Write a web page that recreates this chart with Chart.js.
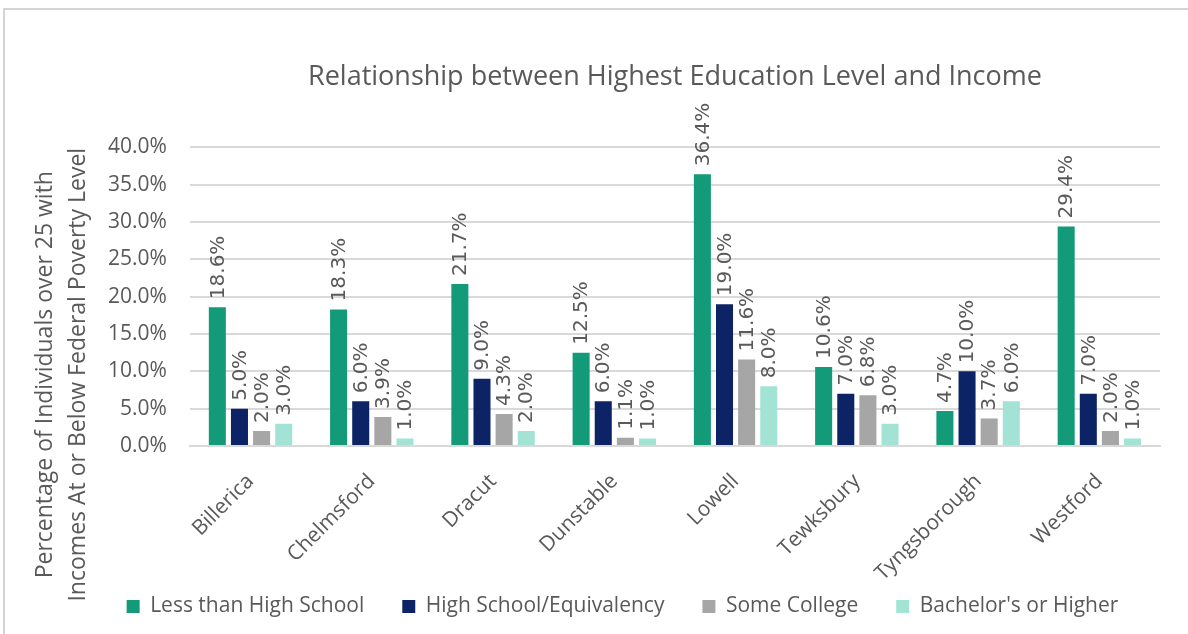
<!DOCTYPE html>
<html>
<head>
<meta charset="utf-8">
<script src="https://cdn.jsdelivr.net/npm/chart.js@4.4.1/dist/chart.umd.min.js"></script>
<style>
  html, body { margin: 0; padding: 0; background: #fff; overflow: hidden; }
  #wrap { position: relative; width: 1188px; height: 634px; }
  #frame { position: absolute; left: 3px; top: 8px; right: -4px; bottom: -4px;
           border-left: 2px solid #d4d4d4; border-top: 2px solid #d4d4d4; pointer-events: none; }
</style>
</head>
<body>
<div id="wrap">
  <canvas id="bar-chart" width="1188" height="634"></canvas>
  <div id="frame"></div>
</div>
<script>
var towns = ['Billerica', 'Chelmsford', 'Dracut', 'Dunstable', 'Lowell', 'Tewksbury', 'Tyngsborough', 'Westford'];
var lessThanHS   = [18.6, 18.3, 21.7, 12.5, 36.4, 10.6, 4.7, 29.4];
var highSchool   = [5.0, 6.0, 9.0, 6.0, 19.0, 7.0, 10.0, 7.0];
var someCollege  = [2.0, 3.9, 4.3, 1.1, 11.6, 6.8, 3.7, 2.0];
var bachelors    = [3.0, 1.0, 2.0, 1.0, 8.0, 3.0, 6.0, 1.0];
var yTicks = [0, 5, 10, 15, 20, 25, 30, 35, 40];
var yTitle = ['Percentage of Individuals over 25 with', 'Incomes At or Below Federal Poverty Level'];

var textGray = '#595959';
var sans = '"Open Sans"';

// value labels, rotated, sitting just above each bar
var barLabels = {
  id: 'barLabels',
  afterDatasetsDraw: function(chart) {
    var ctx = chart.ctx;
    ctx.save();
    ctx.fillStyle = textGray;
    ctx.font = '20px "DejaVu Sans"';
    ctx.textAlign = 'left';
    ctx.textBaseline = 'middle';
    chart.data.datasets.forEach(function(ds, i) {
      chart.getDatasetMeta(i).data.forEach(function(bar, j) {
        ctx.save();
        ctx.translate(bar.x, bar.y - 8);
        ctx.rotate(-Math.PI / 2);
        ctx.fillText(ds.data[j].toFixed(1) + '%', 0, 1);
        ctx.restore();
      });
    });
    ctx.restore();
  }
};

// two-line y axis title, centred on the area between plot top and legend
var yAxisTitle = {
  id: 'yAxisTitle',
  afterDraw: function(chart) {
    var ctx = chart.ctx;
    var cy = (chart.chartArea.top + chart.legend.top + 44) / 2;
    var left = chart.scales.y.left;
    ctx.save();
    ctx.fillStyle = textGray;
    ctx.font = '23px ' + sans;
    ctx.textAlign = 'center';
    ctx.textBaseline = 'middle';
    [left - 40, left - 7].forEach(function(x, k) {
      ctx.save();
      ctx.translate(x, cy);
      ctx.rotate(-Math.PI / 2);
      ctx.fillText(yTitle[k], 0, 0);
      ctx.restore();
    });
    ctx.restore();
  }
};

new Chart(document.getElementById('bar-chart'), {
  type: 'bar',
  data: {
    labels: towns,
    datasets: [
      { label: 'Less than High School', data: lessThanHS, backgroundColor: '#139A79' },
      { label: 'High School/Equivalency', data: highSchool, backgroundColor: '#0C2466' },
      { label: 'Some College', data: someCollege, backgroundColor: '#A6A6A6' },
      { label: "Bachelor's or Higher", data: bachelors, backgroundColor: '#A2E3D5' }
    ]
  },
  options: {
    responsive: false,
    animation: false,
    layout: { padding: { left: 85, right: 28, top: 0, bottom: 7 } },
    datasets: { bar: { categoryPercentage: 0.73, barPercentage: 0.77 } },
    plugins: {
      legend: {
        position: 'bottom',
        labels: {
          color: textGray,
          font: { family: sans, size: 21 },
          boxWidth: 13, boxHeight: 13,
          padding: 38
        }
      },
      title: {
        display: true,
        fullSize: false,
        text: 'Relationship between Highest Education Level and Income',
        color: textGray,
        font: { family: sans, size: 27, weight: 'normal' },
        padding: { top: 61, bottom: 54 }
      },
      tooltip: { enabled: false }
    },
    scales: {
      x: {
        grid: { display: false },
        border: { color: '#d9d9d9', width: 2 },
        ticks: {
          color: textGray,
          font: { family: sans, size: 21 },
          minRotation: 45, maxRotation: 45,
          padding: 15
        },
        // slanted names hang into the legend's empty top padding (so no
        // clipping at the scale's bottom edge), and the first one should
        // not push the plot to the right
        afterFit: function(scale) {
          scale.paddingLeft = 0;
          scale.height -= 43;
          scale._computeLabelArea = function() { return undefined; };
        }
      },
      y: {
        min: 0, max: 40,
        afterBuildTicks: function(axis) { axis.ticks = yTicks.map(function(v) { return { value: v }; }); },
        grid: { color: '#d9d9d9', lineWidth: 2, drawTicks: false },
        border: { display: false },
        ticks: {
          color: textGray,
          font: { family: sans, size: 21 },
          padding: 23,
          callback: function(v) { return v.toFixed(1) + '%'; }
        }
      }
    }
  },
  plugins: [barLabels, yAxisTitle]
});
</script>
</body>
</html>
